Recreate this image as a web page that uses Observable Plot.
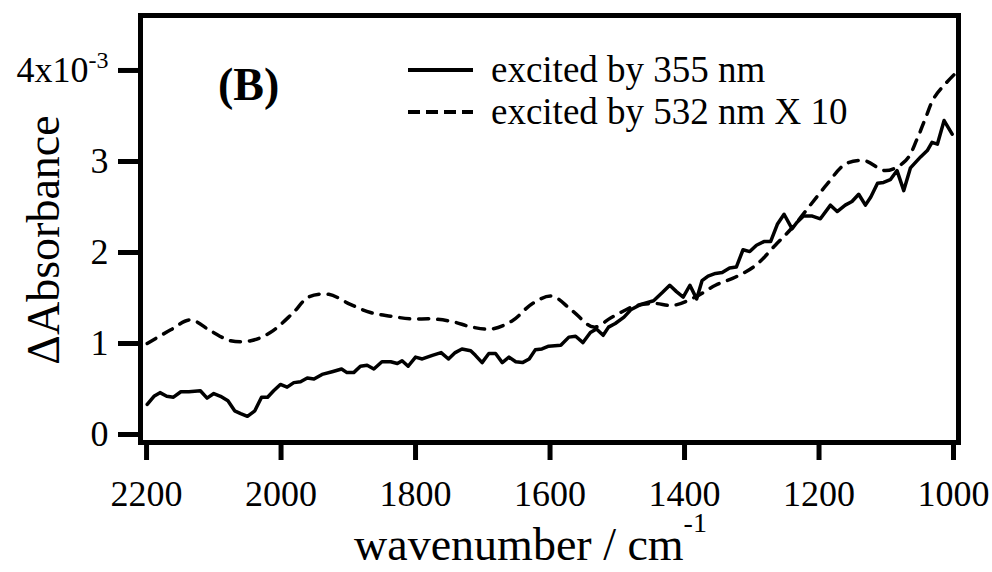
<!DOCTYPE html>
<html>
<head>
<meta charset="utf-8">
<script src="https://cdn.jsdelivr.net/npm/d3@7"></script>
<script src="https://cdn.jsdelivr.net/npm/@observablehq/plot@0.6"></script>
<style>
  html, body { margin: 0; padding: 0; background: white; }
  #wrap { position: relative; width: 992px; height: 572px; font-family: "Liberation Serif", "Times New Roman", serif; }
  #overlay { position: absolute; left: 0; top: 0; pointer-events: none; }
</style>
</head>
<body>
<div id="wrap"></div>
<script>
// Wavenumber (cm^-1) and ΔAbsorbance (x 10^-3), excited by 355 nm
const wn355 = [2199,2189,2180,2170,2160,2149,2137,2120,2110,2100,
  2090,2079,2069,2060,2050,2039,2029,2020,2011,2001,
  1991,1981,1971,1961,1951,1939,1924,1910,1902,1892,
  1882,1872,1862,1850,1837,1827,1820,1811,1800,1790,
  1775,1762,1751,1741,1731,1718,1711,1701,1691,1681,
  1671,1661,1651,1641,1631,1622,1612,1602,1584,1572,
  1562,1551,1540,1531,1521,1513,1503,1490,1480,1465,
  1446,1433,1422,1412,1402,1392,1382,1374,1365,1354,
  1344,1333,1323,1313,1303,1293,1282,1272,1262,1252,
  1240,1233,1223,1210,1198,1183,1173,1161,1151,1141,
  1131,1123,1113,1104,1094,1084,1074,1064,1049,1039,
  1032,1024,1014,1002];
const abs355 = [0.33,0.42,0.46,0.42,0.41,0.47,0.47,0.48,0.40,0.45,
  0.42,0.37,0.26,0.23,0.20,0.26,0.41,0.41,0.48,0.55,
  0.52,0.57,0.58,0.62,0.61,0.66,0.69,0.72,0.68,0.68,
  0.75,0.76,0.72,0.80,0.80,0.78,0.81,0.75,0.85,0.83,
  0.87,0.90,0.83,0.90,0.94,0.92,0.87,0.79,0.89,0.89,
  0.79,0.85,0.80,0.79,0.83,0.93,0.94,0.97,0.98,1.07,
  1.08,1.01,1.12,1.16,1.09,1.18,1.22,1.29,1.37,1.43,
  1.47,1.56,1.64,1.57,1.51,1.64,1.49,1.69,1.74,1.77,
  1.78,1.83,1.84,2.03,2.01,2.08,2.12,2.12,2.31,2.42,
  2.26,2.33,2.40,2.40,2.37,2.52,2.45,2.52,2.56,2.64,
  2.52,2.61,2.76,2.77,2.80,2.90,2.68,2.93,3.05,3.12,
  3.21,3.19,3.45,3.30];

// excited by 532 nm, multiplied by 10
const wn532 = [2199,2164,2135,2105,2075,2045,2016,1983,1959,1929,
  1897,1867,1837,1807,1775,1745,1716,1686,1656,1626,
  1597,1567,1535,1510,1490,1475,1446,1416,1384,1354,
  1324,1294,1265,1239,1213,1188,1161,1133,1101,1071,
  1054,1042,1028,997];
const abs532 = [1.00,1.15,1.26,1.14,1.03,1.03,1.12,1.33,1.51,1.54,
  1.43,1.34,1.30,1.27,1.27,1.24,1.18,1.16,1.25,1.44,
  1.52,1.36,1.18,1.28,1.36,1.41,1.44,1.42,1.51,1.64,
  1.73,1.86,2.08,2.28,2.52,2.75,2.97,3.01,2.90,3.01,
  3.25,3.47,3.71,3.97];

const xTicks = [2200, 2000, 1800, 1600, 1400, 1200, 1000];
const yTicks = [0, 1, 2, 3, 4];
const xTitle = "wavenumber / cm";
const xTitleSup = "-1";
const yTitle = "ΔAbsorbance";
const yTopLabel = "4x10";
const yTopSup = "-3";
const panelLabel = "(B)";
const legendLabels = ["excited by 355 nm", "excited by 532 nm X 10"];

const d355 = wn355.map((w, i) => ({w, a: abs355[i]}));
const d532 = wn532.map((w, i) => ({w, a: abs532[i]}));

const serif = "Liberation Serif, Times New Roman, serif";

const chart = Plot.plot({
  width: 992,
  height: 572,
  marginLeft: 140,
  marginRight: 34,
  marginTop: 15,
  marginBottom: 130,
  x: {domain: [2209, 992.6]},
  y: {domain: [-0.088, 4.604]},
  style: {fontSize: "36px", color: "black", background: "white", overflow: "visible"},
  marks: [
    Plot.axisX({ticks: xTicks, tickSize: 18, tickPadding: 20, strokeWidth: 5, fontSize: 36, tickFormat: d => String(d), label: null}),
    Plot.axisY({ticks: yTicks, tickSize: 22, tickPadding: 10, strokeWidth: 5, fontSize: 36, tickFormat: d => d === 4 ? yTopLabel : String(d), label: null}),
    Plot.line(d532, {x: "w", y: "a", stroke: "black", strokeWidth: 3.5, strokeDasharray: "10,9", curve: "catmull-rom"}),
    Plot.line(d355, {x: "w", y: "a", stroke: "black", strokeWidth: 3.5}),
    Plot.frame({stroke: "black", strokeWidth: 5}),
    Plot.text([xTitle], {frameAnchor: "bottom", textAnchor: "middle", lineAnchor: "middle", dx: -19, dy: 103, fontSize: 46, fill: "black"}),
    Plot.text([yTitle], {frameAnchor: "left", textAnchor: "middle", lineAnchor: "middle", rotate: -90, dx: -96, dy: 11, fontSize: 46, fill: "black"})
  ]
});

document.getElementById("wrap").appendChild(chart);

// serif font everywhere in the chart (inline, highest priority)
d3.select(chart).attr("font-family", serif).style("font-family", serif, "important");
d3.select(chart).selectAll("g, text, tspan")
  .attr("font-family", serif)
  .style("font-family", serif, "important");

// superscripts
d3.select(chart).selectAll("text").each(function() {
  const t = d3.select(this);
  if (this.textContent === yTopLabel) {
    t.append("tspan").attr("dy", "-14").attr("font-size", "24px").text(yTopSup);
  } else if (this.textContent === xTitle) {
    t.append("tspan").attr("dy", "-28").attr("font-size", "28px").text(xTitleSup);
  }
});

// in-plot legend and panel label
const ov = d3.select("#wrap").append("svg").attr("id", "overlay").attr("width", 992).attr("height", 572);
ov.append("text").attr("x", 218).attr("y", 100).attr("font-size", 46).attr("font-weight", "bold")
  .attr("font-family", serif).text(panelLabel);
const styles = [null, "12,6"];
const ys = [70, 112];
legendLabels.forEach((lab, i) => {
  ov.append("line").attr("x1", 408).attr("x2", 473).attr("y1", ys[i]).attr("y2", ys[i])
    .attr("stroke", "black").attr("stroke-width", 4).attr("stroke-dasharray", styles[i]);
  ov.append("text").attr("x", 491).attr("y", ys[i] + 12).attr("font-size", 37)
    .attr("font-family", serif).text(lab);
});
</script>
</body>
</html>
